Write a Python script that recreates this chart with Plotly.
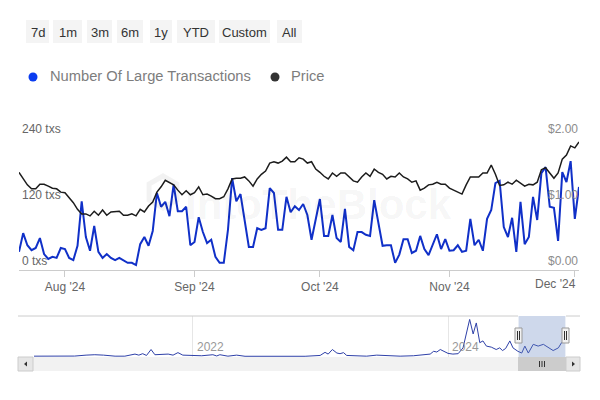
import pandas as pd
import plotly.graph_objects as go

# ---------------- data ----------------
start_date = "2024-07-21"
n_days = 135
dates = pd.date_range(start_date, periods=n_days, freq="D")

large_txs = [33, 67, 45, 36, 40, 58, 29, 20, 24, 22, 40, 38, 22, 18, 44, 125, 60, 35, 80, 33,
             22, 29, 22, 18, 22, 18, 13, 13, 9, 47, 60, 44, 71, 140, 115, 124, 98, 155, 107, 107,
             115, 45, 51, 96, 69, 49, 55, 24, 13, 13, 73, 167, 125, 138, 91, 42, 42, 76, 73, 76,
             149, 140, 73, 73, 133, 105, 116, 109, 120, 100, 55, 91, 129, 62, 62, 100, 58, 51, 111, 42,
             36, 69, 69, 64, 62, 127, 85, 44, 45, 45, 13, 28, 56, 56, 31, 35, 62, 38, 27, 45,
             65, 38, 56, 35, 36, 45, 33, 35, 93, 45, 55, 35, 93, 109, 158, 162, 78, 60, 95, 33,
             124, 47, 60, 133, 91, 176, 187, 115, 113, 53, 178, 160, 198, 93, 151]

price = [1.48, 1.38, 1.29, 1.23, 1.23, 1.30, 1.30, 1.27, 1.24, 1.23, 1.18, 1.17, 1.09, 1.02, 0.92, 0.85, 0.85, 0.82, 0.89, 0.83,
         0.91, 0.83, 0.88, 0.89, 0.89, 0.83, 0.83, 0.85, 0.82, 0.92, 0.88, 0.97, 1.03, 1.18, 1.26, 1.36, 1.33, 1.29, 1.21, 1.14,
         1.20, 1.14, 1.17, 1.26, 1.14, 1.15, 1.12, 1.08, 1.08, 1.11, 1.23, 1.38, 1.39, 1.39, 1.41, 1.35, 1.27, 1.38, 1.45, 1.50,
         1.62, 1.64, 1.62, 1.65, 1.71, 1.64, 1.64, 1.70, 1.68, 1.62, 1.64, 1.53, 1.48, 1.42, 1.38, 1.47, 1.42, 1.47, 1.47, 1.41,
         1.35, 1.33, 1.41, 1.47, 1.42, 1.53, 1.48, 1.45, 1.38, 1.42, 1.41, 1.47, 1.41, 1.38, 1.33, 1.35, 1.21, 1.24, 1.29, 1.30,
         1.33, 1.30, 1.30, 1.24, 1.21, 1.17, 1.15, 1.29, 1.41, 1.41, 1.41, 1.47, 1.47, 1.59, 1.45, 1.28, 1.29, 1.33, 1.30, 1.36,
         1.32, 1.27, 1.30, 1.29, 1.33, 1.52, 1.55, 1.47, 1.39, 1.47, 1.68, 1.74, 1.88, 1.85, 1.94]

nav_dates = ["2020-10-03", "2021-01-27", "2021-03-01", "2021-03-26", "2021-04-20", "2021-05-23", "2021-06-20",
             "2021-07-19", "2021-07-30", "2021-08-10", "2021-08-21", "2021-09-03", "2021-09-14", "2021-10-03",
             "2021-10-22", "2021-11-05", "2021-11-19", "2021-12-03", "2021-12-28", "2022-01-26", "2022-02-27",
             "2022-03-10", "2022-03-19", "2022-04-11", "2022-05-06", "2022-05-30", "2022-11-18", "2022-12-11",
             "2022-12-31", "2023-01-14", "2023-01-23", "2023-02-04", "2023-02-17", "2023-02-26", "2023-03-08",
             "2023-03-17", "2023-04-15", "2023-05-13", "2023-06-11", "2023-07-10", "2023-08-17", "2023-09-24",
             "2023-10-23", "2023-11-11", "2023-11-21", "2023-11-30", "2023-12-10", "2023-12-21", "2024-01-01",
             "2024-01-15", "2024-01-30", "2024-02-13", "2024-02-23", "2024-03-03", "2024-03-13", "2024-03-22",
             "2024-04-01", "2024-04-10", "2024-04-20", "2024-05-04", "2024-05-18", "2024-05-28", "2024-06-05",
             "2024-06-14", "2024-06-26", "2024-07-05", "2024-07-19", "2024-07-30", "2024-08-08", "2024-08-18",
             "2024-09-01", "2024-09-15", "2024-09-30", "2024-10-14", "2024-10-28", "2024-11-12", "2024-11-21",
             "2024-12-01"]
nav_values = [3, 4, 13, 17, 13, 3, 3, 23, 13, 27, 10, 67, 17, 23, 23, 13, 37, 13, 7, 7, 17,
              5, 17, 3, 13, 2, 2, 3, 10, 40, 23, 67, 33, 27, 37, 10, 10, 3, 13, 7, 3, 7,
              17, 23, 50, 43, 67, 50, 30, 23, 27, 83, 217, 357, 217, 323, 133, 150, 100, 90, 67,
              83, 57, 77, 150, 83, 50, 33, 100, 33, 117, 100, 117, 83, 57, 83, 133, 150]

month_ticks = ["2024-08-01", "2024-09-01", "2024-10-01", "2024-11-01", "2024-12-01"]
month_labels = ["Aug '24", "Sep '24", "Oct '24", "Nov '24", "Dec '24"]
txs_ticks = [0, 120, 240]
txs_labels = ["0 txs", "120 txs", "240 txs"]
price_ticks = [0, 1, 2]
price_labels = ["$0.00", "$1.00", "$2.00"]
nav_year_ticks = ["2022-01-01", "2024-01-01"]
nav_year_labels = ["2022", "2024"]
range_buttons = ["7d", "1m", "3m", "6m", "1y", "YTD", "Custom", "All"]
series_names = ["Number Of Large Transactions", "Price"]
window = ["2024-07-21", "2024-12-02"]

# ---------------- layout helpers ----------------
W, H = 600, 400
def px(x):
    return x / W
def py(y):
    return 1 - y / H

FONT = "Liberation Sans, Arial, sans-serif"
BLUE = "#1030c8"
BLACK = "#1c1c1c"

fig = go.Figure()
fig.add_trace(go.Scatter(x=dates, y=price, xaxis="x", yaxis="y2", mode="lines",
                         line=dict(color=BLACK, width=1.5), name=series_names[1]))
fig.add_trace(go.Scatter(x=dates, y=large_txs, xaxis="x", yaxis="y", mode="lines",
                         line=dict(color=BLUE, width=2), name=series_names[0]))
fig.add_trace(go.Scatter(x=nav_dates, y=nav_values, xaxis="x2", yaxis="y3", mode="lines",
                         line=dict(color="#2e40a8", width=1), name="nav"))

shapes = []
annotations = []

# range selector buttons
btn_pos = [(26, 49), (53, 82), (87, 112), (117, 143), (150, 172), (177, 215), (219, 270), (277, 302)]
for lab, (x0, x1) in zip(range_buttons, btn_pos):
    shapes.append(dict(type="rect", xref="paper", yref="paper", x0=px(x0), x1=px(x1),
                       y0=py(43), y1=py(20), fillcolor="#f4f4f4", line=dict(width=0), layer="below"))
    annotations.append(dict(text=lab, xref="paper", yref="paper", x=px((x0 + x1) / 2), y=py(32.5),
                            xanchor="center", yanchor="middle", showarrow=False,
                            font=dict(family=FONT, size=13, color="#333333")))

# legend
legend_items = [(series_names[0], "#0a3cf0", 33, 48), (series_names[1], "#333333", 275, 289)]
for name, col, cx, tx in legend_items:
    shapes.append(dict(type="circle", xref="paper", yref="paper", x0=px(cx - 4.5), x1=px(cx + 4.5),
                       y0=py(81.5), y1=py(72.5), fillcolor=col, line=dict(width=0)))
    annotations.append(dict(text=name, xref="paper", yref="paper", x=px(tx), y=py(76),
                            xanchor="left", yanchor="middle", showarrow=False,
                            font=dict(family=FONT, size=14.7, color="#7d7d7d")))

# watermark
annotations.append(dict(text="<b>IntoTheBlock</b>", xref="paper", yref="paper", x=px(318), y=py(205),
                        xanchor="center", yanchor="middle", showarrow=False,
                        font=dict(family=FONT, size=42, color="rgba(0,0,0,0.05)")))
hx, hy, r = 163, 192, 16
shapes.append(dict(type="path", xref="paper", yref="paper",
                   path="M {} {} L {} {} L {} {} L {} {} L {} {} L {} {} Z".format(
                       px(hx), py(hy - r), px(hx + 0.87 * r), py(hy - r / 2), px(hx + 0.87 * r), py(hy + r / 2),
                       px(hx), py(hy + r), px(hx - 0.87 * r), py(hy + r / 2), px(hx - 0.87 * r), py(hy - r / 2)),
                   line=dict(color="rgba(0,0,0,0.05)", width=5)))

# y-axis labels (inside plot, above gridlines)
for v, t in zip(txs_ticks, txs_labels):
    annotations.append(dict(text=t, xref="paper", yref="y", x=px(20), y=v, xanchor="left",
                            yanchor="bottom", showarrow=False,
                            font=dict(family=FONT, size=12, color="#666666")))
for v, t in zip(price_ticks, price_labels):
    annotations.append(dict(text=t, xref="paper", yref="y2", x=px(580), y=v, xanchor="right",
                            yanchor="bottom", showarrow=False,
                            font=dict(family=FONT, size=12, color="#8c8c8c")))

# last month label is pulled inside the plot edge (as in the original)
axis_text = list(month_labels[:-1]) + [""]
annotations.append(dict(text=month_labels[-1], xref="x", yref="paper", x=month_ticks[-1], y=py(284),
                        xanchor="right", yanchor="middle", xshift=3, showarrow=False,
                        font=dict(family=FONT, size=12, color="#666666")))

# navigator decorations
nav_top, nav_bot = 316, 357
for d, t in zip(nav_year_ticks, nav_year_labels):
    annotations.append(dict(text=t, xref="x2", yref="paper", x=d, y=py(347), xanchor="left",
                            yanchor="middle", xshift=2, showarrow=False,
                            font=dict(family=FONT, size=12, color="#999999")))
shapes.append(dict(type="rect", xref="x2", yref="paper", x0=window[0], x1=window[1],
                   y0=py(nav_bot), y1=py(nav_top), fillcolor="rgba(102,133,194,0.32)", line=dict(width=0)))
shapes.append(dict(type="line", xref="paper", yref="paper", x0=px(18), x1=px(518),
                   y0=py(nav_top), y1=py(nav_top), line=dict(color="#cccccc", width=1)))
shapes.append(dict(type="line", xref="paper", yref="paper", x0=px(566), x1=px(580),
                   y0=py(nav_top), y1=py(nav_top), line=dict(color="#cccccc", width=1)))
# handles
for hxc in (518.5, 565.5):
    shapes.append(dict(type="rect", xref="paper", yref="paper", x0=px(hxc - 3.5), x1=px(hxc + 3.5),
                       y0=py(343), y1=py(328), fillcolor="#f2f2f2", line=dict(color="#999999", width=1)))
    for dx in (-1, 1):
        shapes.append(dict(type="line", xref="paper", yref="paper", x0=px(hxc + dx), x1=px(hxc + dx),
                           y0=py(340), y1=py(331), line=dict(color="#333333", width=1)))
# scrollbar
shapes.append(dict(type="rect", xref="paper", yref="paper", x0=px(18), x1=px(580), y0=py(371), y1=py(357),
                   fillcolor="#f2f2f2", line=dict(width=0)))
shapes.append(dict(type="rect", xref="paper", yref="paper", x0=px(518), x1=px(566), y0=py(371), y1=py(357),
                   fillcolor="#cccccc", line=dict(width=0)))
for dx in (-2.5, 0, 2.5):
    shapes.append(dict(type="line", xref="paper", yref="paper", x0=px(542 + dx), x1=px(542 + dx),
                       y0=py(367), y1=py(361), line=dict(color="#333333", width=1)))
for (b0, b1) in ((18, 33), (566, 580)):
    shapes.append(dict(type="rect", xref="paper", yref="paper", x0=px(b0), x1=px(b1), y0=py(371), y1=py(357),
                       fillcolor="#e6e6e6", line=dict(color="#cccccc", width=1)))
shapes.append(dict(type="path", xref="paper", yref="paper",
                   path="M {} {} L {} {} L {} {} Z".format(px(24), py(364), px(27), py(361.5), px(27), py(366.5)),
                   fillcolor="#333333", line=dict(width=0)))
shapes.append(dict(type="path", xref="paper", yref="paper",
                   path="M {} {} L {} {} L {} {} Z".format(px(575), py(364), px(572), py(361.5), px(572), py(366.5)),
                   fillcolor="#333333", line=dict(width=0)))

fig.update_layout(
    width=W, height=H, margin=dict(l=0, r=0, t=0, b=0), autosize=False,
    paper_bgcolor="white", plot_bgcolor="white", showlegend=False,
    font=dict(family=FONT),
    xaxis=dict(domain=[px(19), px(579)], range=window, anchor="y",
               tickvals=month_ticks, ticktext=axis_text, ticks="outside", ticklen=6,
               tickcolor="#cccccc", showline=True, linecolor="#cccccc", linewidth=1,
               showgrid=False, zeroline=False, tickfont=dict(family=FONT, size=12, color="#666666")),
    yaxis=dict(domain=[py(270), py(138)], range=[0, 240], tickvals=[240], showticklabels=False,
               showgrid=True, gridcolor="#eeeeee", zeroline=False, showline=False, anchor="x"),
    yaxis2=dict(overlaying="y", side="right", range=[0, 2], showgrid=False, showticklabels=False,
                zeroline=False, showline=False, anchor="x"),
    xaxis2=dict(domain=[px(19), px(579)], anchor="y3", range=["2020-08-21", "2025-01-10"],
                tickvals=nav_year_ticks, showticklabels=False, showgrid=True, gridcolor="#e6e6e6",
                ticks="", showline=False, zeroline=False),
    yaxis3=dict(domain=[py(nav_bot), py(nav_top)], range=[-5, 390], anchor="x2",
                showticklabels=False, showgrid=False, zeroline=False, showline=False),
    shapes=shapes, annotations=annotations,
)

fig.write_html(
    "out.html",
    config={"displayModeBar": False, "responsive": False},
    post_script="document.body.style.margin='0';document.body.style.padding='0';"
                "document.body.style.overflow='hidden';document.documentElement.style.overflow='hidden';",
)
